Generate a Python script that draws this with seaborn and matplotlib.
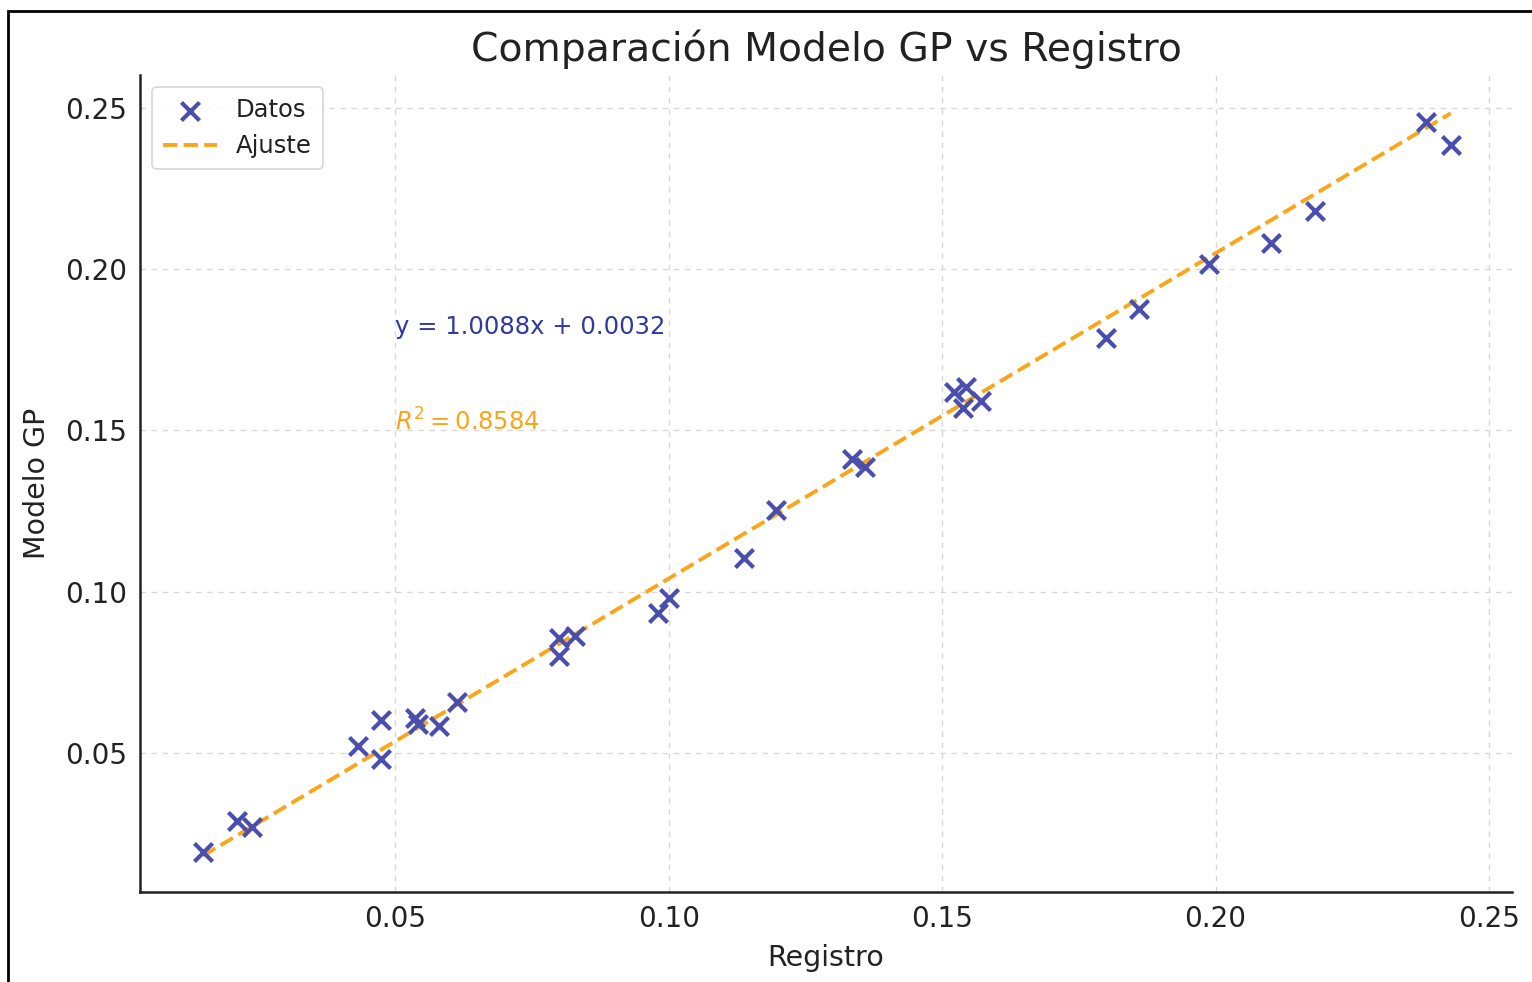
import matplotlib
matplotlib.use("Agg")
import matplotlib.pyplot as plt
import seaborn as sns
import numpy as np
import pandas as pd
from matplotlib.patches import Rectangle

# Data
registro = [0.0148, 0.0211, 0.0238, 0.0432, 0.0473, 0.0473, 0.0535, 0.0542, 0.0579, 0.0612,
            0.0800, 0.0800, 0.0828, 0.0980, 0.1000, 0.1137, 0.1196, 0.1335, 0.1359, 0.1522,
            0.1544, 0.1538, 0.1571, 0.1800, 0.1859, 0.1987, 0.2101, 0.2181, 0.2385, 0.2430]
modelo_gp = [0.0193, 0.0289, 0.0270, 0.0522, 0.0602, 0.0481, 0.0609, 0.0590, 0.0584, 0.0658,
             0.0857, 0.0801, 0.0863, 0.0934, 0.0981, 0.1105, 0.1254, 0.1412, 0.1387, 0.1620,
             0.1635, 0.1570, 0.1592, 0.1787, 0.1877, 0.2017, 0.2082, 0.2181, 0.2457, 0.2386]
slope = 1.0088
intercept = 0.0032
r2 = 0.8584
x_ticks = [0.05, 0.10, 0.15, 0.20, 0.25]
y_ticks = [0.05, 0.10, 0.15, 0.20, 0.25]

df = pd.DataFrame({"Registro": registro, "Modelo GP": modelo_gp})
x_fit = np.array([min(registro), max(registro)])
fit_df = pd.DataFrame({"x": x_fit, "y": slope * x_fit + intercept})

sns.set_style("white")
plt.rcParams['font.family'] = ['DejaVu Sans']

fig = plt.figure(figsize=(15.32, 9.82), dpi=100)
ax = fig.add_axes([140/1532, 1-892/982, (1512-140)/1532, (892-75)/982])

sns.scatterplot(data=df, x="Registro", y="Modelo GP", marker="x", s=170,
                color="#4a4fae", linewidth=3.0, ax=ax, label="Datos", zorder=3)
sns.lineplot(data=fit_df, x="x", y="y", color="#f9a61a", linestyle="--",
             linewidth=2.8, ax=ax, label="Ajuste", zorder=2)

ax.set_xlim(0.0033, 0.2542)
ax.set_ylim(0.0069, 0.2602)
ax.set_xticks(x_ticks)
ax.set_yticks(y_ticks)
ax.set_xticklabels([f"{t:.2f}" for t in x_ticks])
ax.set_yticklabels([f"{t:.2f}" for t in y_ticks])
ax.tick_params(axis="both", labelsize=20, length=6, width=1.3, direction="out",
               color="#222222", labelcolor="#222222")
ax.grid(True, linestyle=(0, (4, 4)), color="#d4d4d4", linewidth=1.0, alpha=0.9)
ax.set_axisbelow(True)
for s in ["top", "right"]:
    ax.spines[s].set_visible(False)
for s in ["left", "bottom"]:
    ax.spines[s].set_color("#222222")
    ax.spines[s].set_linewidth(1.8)

ax.set_xlabel("Registro", fontsize=20.5, color="#222222", labelpad=8)
ax.set_ylabel("Modelo GP", fontsize=20.5, color="#222222", labelpad=10)
ax.set_title("Comparación Modelo GP vs Registro", fontsize=28.3, color="#222222", pad=10)

ax.text(0.05, 0.18, f"y = {slope:.4f}x + {intercept:.4f}", color="#2e3a9e", fontsize=17.5)
ax.text(0.05, 0.15, rf"$R^2 = {r2:.4f}$", color="#f9a61a", fontsize=17.5)

leg = ax.legend(loc="upper left", fontsize=17.5, frameon=True, borderpad=0.45,
                handlelength=2.2, handletextpad=0.8, borderaxespad=0.5)
leg.get_frame().set_edgecolor("#cccccc")
leg.get_frame().set_linewidth(1.2)
for t in leg.get_texts():
    t.set_color("#222222")

fig.patches.append(Rectangle((8/1532, -0.1), 1.2, 1.1 - 11/982, transform=fig.transFigure,
                             fill=False, edgecolor="black", linewidth=2.0))

fig.savefig("out.png", dpi=100)
